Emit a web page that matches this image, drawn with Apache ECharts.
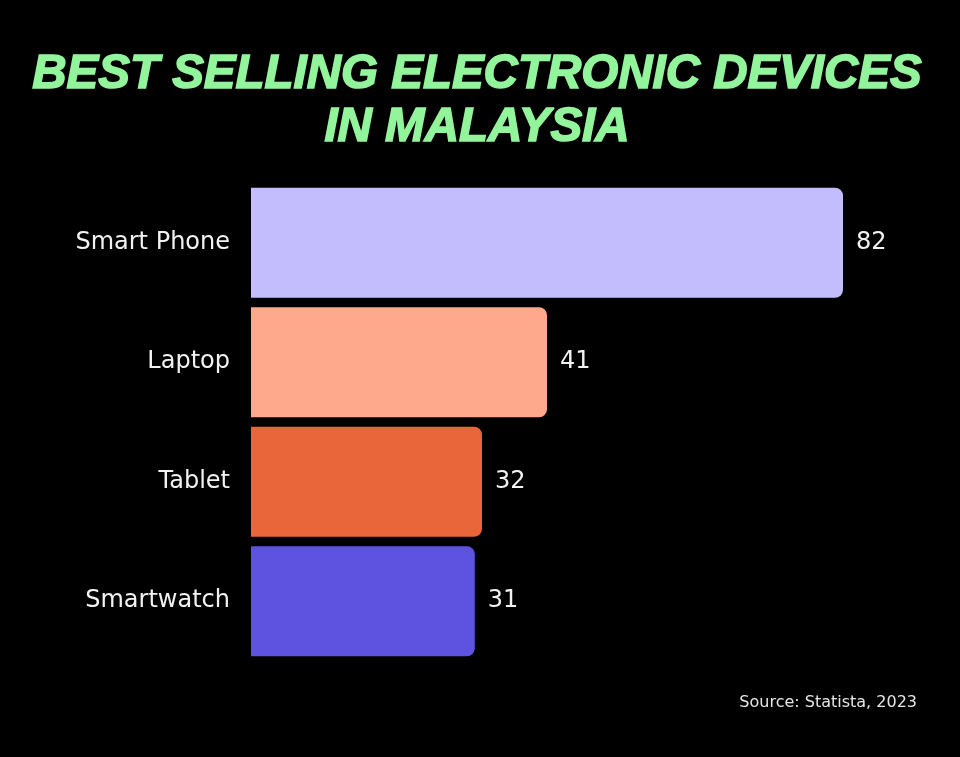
<!DOCTYPE html>
<html>
<head>
<meta charset="utf-8">
<script src="https://cdn.jsdelivr.net/npm/echarts@6/dist/echarts.min.js"></script>
<style>
html,body{margin:0;padding:0;background:#000;}
#main{width:960px;height:757px;}
</style>
</head>
<body>
<div id="main"></div>
<script>
const categories = ['Smart Phone', 'Laptop', 'Tablet', 'Smartwatch'];
const values = [82, 41, 32, 31];
const barColors = ['#C3BDFE', '#FEA98B', '#E9663A', '#5E52E0'];
const titleText = 'BEST SELLING ELECTRONIC DEVICES\nIN MALAYSIA';
const sourceText = 'Source: Statista, 2023';

const chart = echarts.init(document.getElementById('main'));
chart.setOption({
  backgroundColor: '#000000',
  animation: false,
  graphic: [{
    type: 'text',
    x: 477,
    y: 48,
    style: {
      text: titleText,
      fill: '#93F59B',
      stroke: '#93F59B',
      lineWidth: 1.6,
      font: 'italic bold 47.5px "Liberation Sans", Arial, sans-serif',
      lineHeight: 53,
      align: 'center',
      verticalAlign: 'top'
    }
  }, {
    type: 'text',
    right: 43,
    top: 695,
    style: {
      text: sourceText,
      fill: '#E6E6E6',
      font: '16px "DejaVu Sans", sans-serif'
    }
  }],
  grid: {
    left: 251,
    width: 592,
    top: 183,
    height: 478,
    containLabel: false
  },
  xAxis: {
    type: 'value',
    min: 0,
    max: 82,
    show: false
  },
  yAxis: {
    type: 'category',
    data: categories,
    inverse: true,
    axisLine: { show: false },
    axisTick: { show: false },
    splitLine: { show: false },
    axisLabel: {
      color: '#F2F2F2',
      fontSize: 24,
      fontFamily: '"DejaVu Sans", sans-serif',
      margin: 21
    }
  },
  series: [{
    type: 'bar',
    data: values.map((v, i) => ({ value: v, itemStyle: { color: barColors[i] } })),
    barWidth: 110,
    itemStyle: { borderRadius: [0, 8, 8, 0] },
    label: {
      show: true,
      position: 'right',
      distance: 13,
      color: '#F2F2F2',
      fontSize: 24,
      fontFamily: '"DejaVu Sans", sans-serif'
    }
  }]
});
</script>
</body>
</html>
